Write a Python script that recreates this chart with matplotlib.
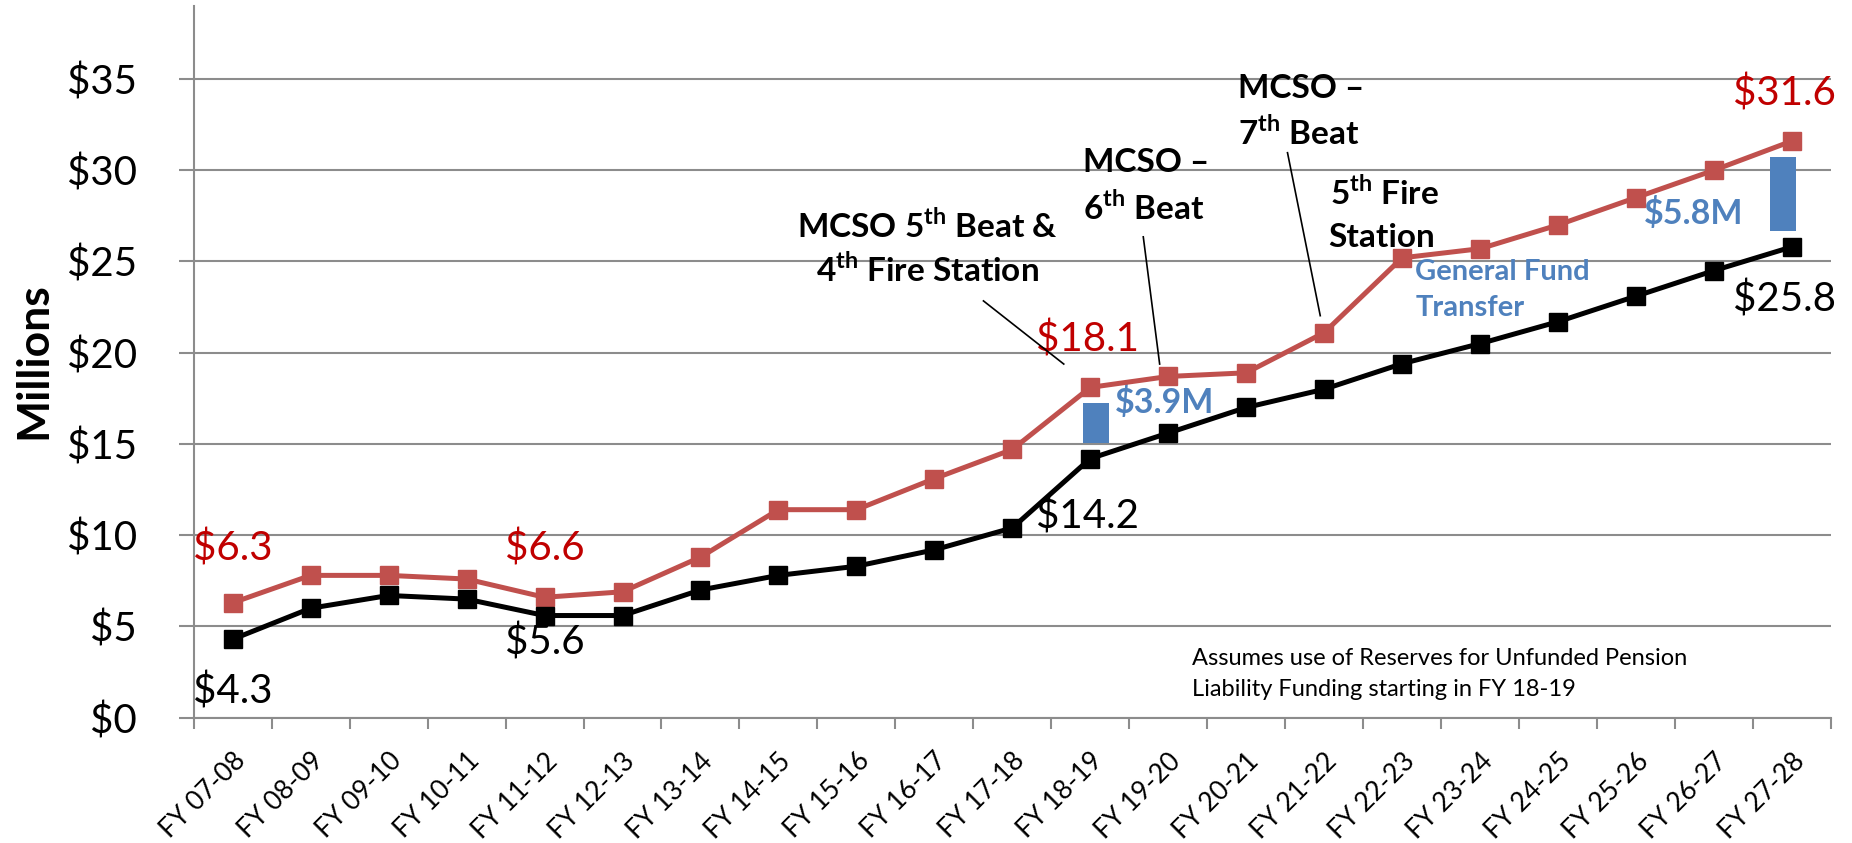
import numpy as np
import matplotlib
matplotlib.use("Agg")
import matplotlib.pyplot as plt

plt.rcParams["font.family"] = ["Lato", "DejaVu Sans"]
plt.rcParams["mathtext.fontset"] = "custom"
plt.rcParams["mathtext.bf"] = "Lato:bold"
plt.rcParams["mathtext.rm"] = "Lato"

# fiscal years and expenditure series ($ millions)
YEARS = ["FY 07-08", "FY 08-09", "FY 09-10", "FY 10-11", "FY 11-12", "FY 12-13",
         "FY 13-14", "FY 14-15", "FY 15-16", "FY 16-17", "FY 17-18", "FY 18-19",
         "FY 19-20", "FY 20-21", "FY 21-22", "FY 22-23", "FY 23-24", "FY 24-25",
         "FY 25-26", "FY 26-27", "FY 27-28"]
TOTAL = [6.3, 7.8, 7.8, 7.6, 6.6, 6.9, 8.8, 11.4, 11.4, 13.1, 14.7, 18.1,
         18.7, 18.9, 21.1, 25.2, 25.7, 27.0, 28.5, 30.0, 31.6]
BASE = [4.3, 6.0, 6.7, 6.5, 5.6, 5.6, 7.0, 7.8, 8.3, 9.2, 10.4, 14.2,
        15.6, 17.0, 18.0, 19.4, 20.5, 21.7, 23.1, 24.5, 25.8]

# general fund transfer gaps shown as bars
GAP_IDX = [11, 20]
GAP_LABELS = ["$3.9M", "$5.8M"]

Y_TICKS = [0, 5, 10, 15, 20, 25, 30, 35]

RED = "#C0504D"
LABEL_RED = "#C00000"
BLUE = "#4F81BD"
GRID = "#8C8C8C"

fig = plt.figure(figsize=(18.52, 8.43), dpi=100)
ax = fig.add_axes([0.1046, 0.1486, 0.8840, 0.8443])

x = np.arange(len(YEARS))
ax.plot(x, TOTAL, color=RED, lw=3.6, marker="s", ms=13.5, zorder=4)
ax.plot(x, BASE, color="black", lw=3.6, marker="s", ms=13.5, zorder=5)

# transfer bars, inset a little from both lines
inset = 0.85
offsets = {11: 0.07, 20: -0.11}
for i in GAP_IDX:
    lo, hi = BASE[i] + inset, TOTAL[i] - inset
    ax.bar(x[i] + offsets[i], hi - lo, bottom=lo, width=0.33, color=BLUE, zorder=3)

ax.set_xlim(-0.5, len(YEARS) - 0.5)
ax.set_ylim(0, 39)
ax.set_yticks(Y_TICKS)
ax.set_yticklabels([f"${v}" for v in Y_TICKS], fontsize=29)
ax.yaxis.grid(True, color=GRID, lw=1.5)
ax.set_axisbelow(True)
ax.tick_params(axis="y", length=11, width=1.5, color=GRID, pad=30)

ax.set_xticks(x)
ax.set_xticklabels(YEARS, rotation=45, ha="right", rotation_mode="anchor", fontsize=19)
ax.set_xticks(np.arange(len(YEARS) + 1) - 0.5, minor=True)
ax.tick_params(axis="x", which="major", length=0, pad=22)
ax.tick_params(axis="x", which="minor", length=8, width=1.5, color=GRID)

for s in ["top", "right"]:
    ax.spines[s].set_visible(False)
for s in ["left", "bottom"]:
    ax.spines[s].set_color(GRID)
    ax.spines[s].set_linewidth(1.5)

# value labels
ax.text(0, 9.25, "$6.3", color=LABEL_RED, fontsize=29, ha="center", va="center")
ax.text(4, 9.25, "$6.6", color=LABEL_RED, fontsize=29, ha="center", va="center")
ax.text(0, 1.45, "$4.3", color="black", fontsize=29, ha="center", va="center")
ax.text(4, 4.1, "$5.6", color="black", fontsize=29, ha="center", va="center")
ax.text(10.3, 11.0, "$14.2", color="black", fontsize=29, ha="left", va="center")
ax.text(10.3, 20.7, "$18.1", color=LABEL_RED, fontsize=29, ha="left", va="center")
ax.text(19.9, 34.2, "$31.6", color=LABEL_RED, fontsize=29, ha="center", va="center")
ax.text(19.9, 22.9, "$25.8", color="black", fontsize=29, ha="center", va="center")

ax.text(11.32, 17.25, GAP_LABELS[0], color=BLUE, fontsize=24.5, fontweight="bold",
        ha="left", va="center")
ax.text(18.1, 27.65, GAP_LABELS[1], color=BLUE, fontsize=24.5, fontweight="bold",
        ha="left", va="center")
ax.text(15.17, 24.45, "General Fund", color=BLUE, fontsize=21, fontweight="bold",
        ha="left", va="center")
ax.text(15.17, 22.45, "Transfer", color=BLUE, fontsize=21, fontweight="bold",
        ha="left", va="center")

# program additions
TH = r"$^{\mathbf{th}}$"
ann = dict(color="black", fontsize=24, fontweight="bold", va="center")
ax.text(8.91, 26.95, "MCSO 5" + TH + " Beat &", ha="center", **ann)
ax.text(8.91, 24.55, "4" + TH + " Fire Station", ha="center", **ann)
ax.text(10.91, 30.4, "MCSO –", ha="left", **ann)
ax.text(10.91, 27.95, "6" + TH + " Beat", ha="left", **ann)
ax.text(12.89, 34.5, "MCSO –", ha="left", **ann)
ax.text(12.89, 32.05, "7" + TH + " Beat", ha="left", **ann)
ax.text(14.07, 28.75, "5" + TH + " Fire", ha="left", **ann)
ax.text(14.05, 26.3, "Station", ha="left", **ann)

ax.plot([9.63, 10.66], [22.84, 19.38], color="black", lw=1.2, zorder=6)
ax.plot([11.68, 11.89], [26.35, 19.38], color="black", lw=1.2, zorder=6)
ax.plot([13.53, 13.95], [30.96, 22.03], color="black", lw=1.2, zorder=6)

ax.text(12.31, 3.27, "Assumes use of Reserves for Unfunded Pension", fontsize=17,
        ha="left", va="center")
ax.text(12.31, 1.52, "Liability Funding starting in FY 18-19", fontsize=17,
        ha="left", va="center")

fig.text(0.0178, 0.572, "Millions", rotation=90, fontsize=32, fontweight="bold",
         ha="center", va="center")

fig.savefig("out.png", dpi=100)
